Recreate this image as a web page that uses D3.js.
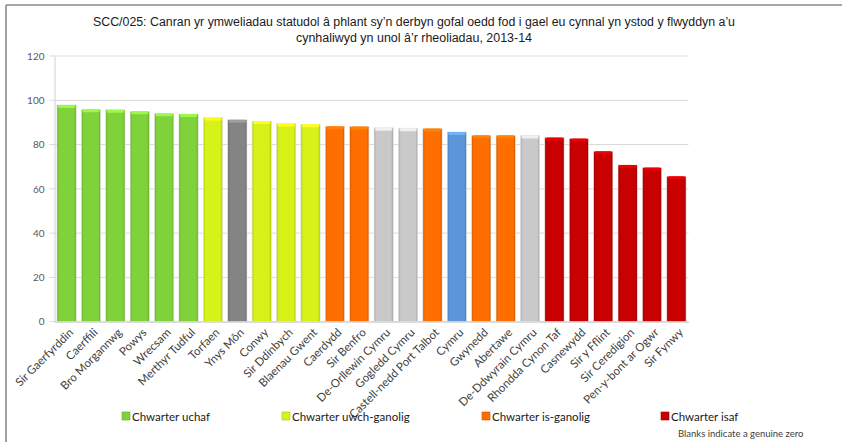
<!DOCTYPE html>
<html>
<head>
<meta charset="utf-8">
<script src="https://cdn.jsdelivr.net/npm/d3@7"></script>
<style>
  html, body { margin: 0; padding: 0; background: #fff; }
  svg { display: block; }
</style>
</head>
<body>
<svg id="chart" width="842" height="442"></svg>
<script>
const titleLines = [
  "SCC/025: Canran yr ymweliadau statudol â phlant sy’n derbyn gofal oedd fod i gael eu cynnal yn ystod y flwyddyn a’u",
  "cynhaliwyd yn unol â’r rheoliadau, 2013-14"
];
const categories = ["Sir Gaerfyrddin","Caerffili","Bro Morgannwg","Powys","Wrecsam","Merthyr Tudful","Torfaen","Ynys Môn","Conwy","Sir Ddinbych","Blaenau Gwent","Caerdydd","Sir Benfro","De-Orllewin Cymru","Gogledd Cymru","Castell-nedd Port Talbot","Cymru","Gwynedd","Abertawe","De-Ddwyrain Cymru","Rhondda Cynon Taf","Casnewydd","Sir y Fflint","Sir Ceredigion","Pen-y-bont ar Ogwr","Sir Fynwy"];
const values = [97.9,95.9,95.7,95.0,94.1,93.8,92.2,91.2,90.6,89.5,89.2,88.3,88.2,87.6,87.4,87.3,85.7,84.2,84.2,84.1,83.2,82.7,77.0,70.8,69.6,65.7];
const groups = ["uchaf","uchaf","uchaf","uchaf","uchaf","uchaf","uwch","other","uwch","uwch","uwch","is","is","region","region","is","wales","is","is","region","isaf","isaf","isaf","isaf","isaf","isaf"];
const groupKeys = ["uchaf","uwch","is","isaf","other","region","wales"];
const groupColors = ["#80d23a","#d6f218","#ff6e00","#c80000","#848484","#c9c9c9","#5b97da"];
const legendKeys = ["uchaf","uwch","is","isaf"];
const legendLabels = ["Chwarter uchaf","Chwarter uwch-ganolig","Chwarter is-ganolig","Chwarter isaf"];
const yTicks = [0,20,40,60,80,100,120];
const footnote = "Blanks indicate a genuine zero";

const svg = d3.select("#chart");
const W = 842, H = 442;
const plot = {left: 54.5, right: 688.5, top: 56, bottom: 321.7};

// outer frame (top and left visible)
svg.append("line").attr("x1",6).attr("x2",W).attr("y1",5).attr("y2",5).attr("stroke","#8a8a8a").attr("stroke-width",1.6);
svg.append("line").attr("x1",6).attr("x2",6).attr("y1",5).attr("y2",H).attr("stroke","#8a8a8a").attr("stroke-width",1.6);

// title
svg.append("g").selectAll("text").data(titleLines).join("text")
  .attr("x", 414).attr("y", (d,i) => 26 + i*16)
  .attr("text-anchor","middle")
  .attr("font-family","Liberation Sans, Arial, sans-serif")
  .attr("font-size", 12)
  .attr("fill","#1a1a1a")
  .attr("textLength", (d,i) => i === 0 ? 642 : 236)
  .attr("lengthAdjust","spacingAndGlyphs")
  .text(d => d);

const x = d3.scaleBand().domain(categories).range([plot.left, plot.right]).paddingInner(0.21).paddingOuter(0.1);
const y = d3.scaleLinear().domain([0,120]).range([plot.bottom, plot.top]);
const color = d3.scaleOrdinal().domain(groupKeys).range(groupColors);

// gridlines
const grid = svg.append("g");
grid.selectAll("line").data(yTicks).join("line")
  .attr("x1", plot.left - 5).attr("x2", plot.right)
  .attr("y1", d => y(d)).attr("y2", d => y(d))
  .attr("stroke", "#d9d9d9").attr("stroke-width", 1);

// y axis
const yAxis = d3.axisLeft(y).tickValues(yTicks).tickSize(0).tickPadding(10);
const ya = svg.append("g").attr("transform", `translate(${plot.left},0)`).call(yAxis);
ya.select(".domain").attr("stroke","#d0d0d0");
ya.selectAll("text").attr("font-family","Lato, 'Open Sans', sans-serif").attr("font-size",10).attr("fill","#595959");

// gradients for bevel
const defs = svg.append("defs");
groupKeys.forEach((k,i) => {
  const c = d3.color(groupColors[i]);
  const g = defs.append("linearGradient").attr("id","grad-"+k).attr("x1","0").attr("x2","1").attr("y1","0").attr("y2","0");
  g.append("stop").attr("offset","0%").attr("stop-color", c.darker(0.5));
  g.append("stop").attr("offset","12%").attr("stop-color", c);
  g.append("stop").attr("offset","88%").attr("stop-color", c);
  g.append("stop").attr("offset","100%").attr("stop-color", c.darker(0.6));
});

const data = categories.map((c,i) => ({c, v: values[i], g: groups[i]}));
const bars = svg.append("g");
bars.selectAll("rect.bar").data(data).join("rect").attr("class","bar")
  .attr("x", d => x(d.c)).attr("width", x.bandwidth())
  .attr("y", d => y(d.v)).attr("height", d => y(0) - y(d.v))
  .attr("fill", d => `url(#grad-${d.g})`)
  .attr("stroke", "#e6e6e6").attr("stroke-width", 0.6);
bars.selectAll("rect.cap").data(data).join("rect").attr("class","cap")
  .attr("x", d => x(d.c) + 1).attr("width", x.bandwidth() - 2)
  .attr("y", d => y(d.v)).attr("height", 3)
  .attr("rx", 1.5)
  .attr("fill", d => d3.color(color(d.g)).brighter(0.5));

// x axis
const xAxis = d3.axisBottom(x).tickSize(0).tickPadding(6);
const xa = svg.append("g").attr("transform", `translate(0,${plot.bottom})`).call(xAxis);
xa.select(".domain").attr("stroke","#d0d0d0");
xa.selectAll("text")
  .attr("font-family","Lato, 'Open Sans', sans-serif").attr("font-size",11.5).attr("fill","#404040")
  .attr("text-anchor","end")
  .attr("dy","0.3em")
  .attr("transform", "rotate(-45)")
  .attr("x", 0).attr("y", 0);
xa.selectAll(".tick").attr("transform", d => `translate(${x(d) + x.bandwidth()/2 + 5},9)`);

// legend
const legendX = [122, 282, 482, 661];
const lg = svg.append("g");
const items = lg.selectAll("g").data(legendKeys).join("g")
  .attr("transform", (d,i) => `translate(${legendX[i]},412)`);
items.append("rect").attr("width",8).attr("height",8)
  .attr("fill", d => color(d)).attr("stroke", d => d3.color(color(d)).darker(0.6)).attr("stroke-width",0.6);
items.append("text").attr("x", 10).attr("y", 8.5)
  .attr("font-family","Lato, 'Open Sans', sans-serif").attr("font-size",11.5).attr("fill","#1a1a1a")
  .text((d,i) => legendLabels[i]);

svg.append("text").attr("x", 678).attr("y", 437)
  .attr("font-family","Lato, 'Open Sans', sans-serif").attr("font-size",9.5).attr("fill","#404040")
  .text(footnote);
</script>
</body>
</html>
